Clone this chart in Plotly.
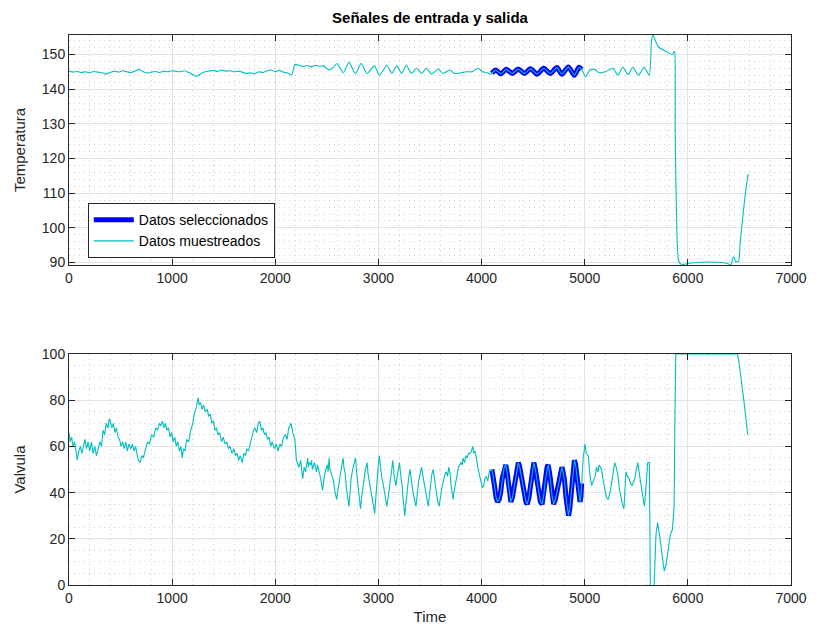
import plotly.graph_objects as go

# ---------------- data ----------------
temp_time = [0, 40, 80, 120, 160, 200, 240, 280, 320, 360, 400, 440, 480, 520, 560, 600, 640, 680, 720, 760,
             800, 840, 880, 920, 960, 1000, 1040, 1080, 1120, 1160, 1200, 1240, 1280, 1320, 1360, 1400, 1440, 1480,
             1520, 1560, 1600, 1640, 1680, 1720, 1760, 1800, 1840, 1880, 1920, 1960, 2000, 2040, 2080, 2120, 2160,
             2190, 2230, 2270, 2310, 2350, 2390, 2430, 2470, 2520, 2560, 2600, 2660, 2714, 2778, 2832, 2890, 2960,
             3010, 3082, 3130, 3178, 3225, 3270, 3320, 3370, 3418, 3466, 3514, 3578, 3626, 3690, 3738, 3800, 3850,
             3910, 3962, 4010, 4058, 4090,
             4100, 4138, 4186, 4240, 4298, 4356, 4416, 4474, 4538, 4602, 4666, 4730, 4778, 4842, 4900, 4944, 4970,
             5008, 5050, 5098, 5140, 5200, 5274, 5320, 5370, 5420, 5466, 5520, 5578, 5626, 5648, 5661, 5690, 5722,
             5790, 5850, 5867, 5872, 5877, 5893, 5909, 5931, 5963, 6011, 6123, 6283, 6379, 6417, 6437, 6449, 6462,
             6491, 6507, 6533, 6558, 6584]
temp_vals = [145.2, 144.9, 145.1, 144.8, 145.0, 144.7, 145.1, 144.9, 144.7, 144.3, 144.8, 145.2, 144.9, 145.3,
             145.0, 144.8, 145.2, 145.7, 145.0, 144.6, 144.9, 145.1, 144.8, 145.2, 145.0, 145.3, 145.1, 145.0, 145.3,
             144.8, 144.2, 143.7, 144.5, 145.0, 145.2, 145.4, 145.1, 145.5, 145.2, 145.3, 145.0, 145.2, 144.9, 144.5,
             144.7, 144.4, 145.0, 144.8, 145.3, 145.5, 145.0, 145.4, 144.9, 144.6, 144.1,
             147.1, 146.9, 146.5, 146.8, 146.4, 146.9, 146.6, 146.7, 145.5, 146.2, 147.4, 144.7, 147.7, 144.5, 147.4,
             144.5, 146.7, 144.0, 146.9, 144.5, 146.7, 144.5, 146.9, 144.5, 146.0, 144.5, 146.0, 144.3, 145.8, 144.5,
             145.5, 144.5, 144.7, 145.0, 145.0, 146.0, 145.0, 144.7, 144.3,
             144.6, 145.5, 144.4, 145.7, 144.5, 145.8, 144.5, 145.9, 144.3, 146.0, 144.5, 146.2, 144.3, 146.4, 144.0,
             146.3, 145.7,
             143.6, 145.5, 145.7, 144.7, 145.0, 146.0, 144.0, 146.3, 144.2, 146.3, 144.0, 146.3, 144.0, 154.1, 155.7,
             153.6, 152.0, 150.8, 150.0, 150.8, 150.8, 128.2, 99.4, 90.8, 89.6, 89.5, 89.8, 90.1, 90.1, 89.8, 89.3,
             91.3, 91.6, 90.3, 90.3, 95.6, 103.3, 110.0, 115.5]

valve_time = [0, 10, 25, 40, 55, 70, 80, 95, 110, 125, 140, 154, 170, 185, 200, 218, 232, 250, 266, 280, 300, 315,
              330, 345, 360, 378, 390, 400, 415, 430, 445, 460, 475, 490, 505, 520, 535, 550, 565, 580, 600, 615,
              630, 645, 660, 672, 690, 705, 720, 740, 762, 780, 800, 820, 840, 858, 875, 890, 906, 920, 935, 950,
              965, 980, 995, 1010, 1025, 1040, 1055, 1070, 1085, 1098, 1110, 1125, 1140, 1160, 1180, 1200, 1215,
              1235, 1252, 1262, 1275, 1290, 1305, 1320, 1340, 1355, 1370, 1385, 1400, 1415, 1430, 1445, 1460, 1480,
              1495, 1514, 1530, 1545, 1560, 1580, 1600, 1615, 1630, 1645, 1660, 1680, 1695, 1710, 1725, 1740, 1760,
              1775, 1790, 1802, 1820, 1835, 1850, 1865, 1880, 1895, 1910, 1925, 1940, 1955, 1970, 1990, 2010, 2026,
              2045, 2060, 2080, 2100, 2115, 2130, 2154, 2170, 2190, 2205, 2215, 2230, 2245, 2266, 2280,
              2295, 2314, 2322, 2330, 2345, 2352, 2360, 2380, 2390, 2400, 2410, 2420, 2432, 2440, 2458, 2466, 2475,
              2490, 2505, 2512, 2522, 2530, 2540, 2550, 2560, 2580, 2596, 2603, 2610, 2625, 2640, 2650, 2657, 2665,
              2675, 2690, 2700, 2714, 2725, 2735, 2750, 2765, 2778, 2788, 2800, 2812, 2826, 2835, 2845, 2858, 2870,
              2880, 2890, 2900, 2910, 2922, 2935, 2950, 2964, 2975, 2985, 2995, 3009, 3018, 3030, 3045, 3060, 3070,
              3082, 3095, 3110, 3125, 3140, 3150, 3160, 3170, 3185, 3204, 3215, 3230, 3242, 3255, 3268, 3280, 3292,
              3306, 3320, 3335, 3350, 3364, 3378, 3390, 3405, 3418, 3432, 3450, 3465, 3483, 3495, 3505, 3518, 3531,
              3545, 3560, 3575, 3588, 3600, 3615, 3630, 3645, 3658, 3670, 3682, 3695, 3708, 3723, 3735, 3750, 3765,
              3775, 3787, 3800, 3812, 3820, 3835, 3848, 3860, 3875, 3890, 3902, 3915, 3925, 3935, 3950, 3962, 3975,
              3995, 4008, 4020, 4032, 4045, 4060, 4075,
              4100, 4110, 4125, 4140, 4155, 4170, 4185, 4200, 4219, 4235, 4250, 4265, 4284, 4300, 4320, 4340, 4356,
              4370, 4385, 4410, 4430, 4443, 4460, 4475, 4490, 4507, 4522, 4540, 4555, 4570, 4587, 4603, 4620, 4635,
              4645, 4658, 4670, 4685, 4699, 4715, 4740, 4760, 4779, 4790, 4805, 4818, 4830, 4843, 4855, 4870, 4885,
              4900, 4912, 4925, 4940, 4955, 4963, 4970,
              4985, 5003, 5015, 5035, 5050, 5067, 5080, 5100, 5115, 5128, 5140, 5163, 5180, 5195, 5210, 5227, 5245,
              5260, 5275, 5291, 5305, 5320, 5335, 5350, 5365, 5380, 5390, 5400, 5415, 5430, 5445, 5460, 5475, 5490,
              5500, 5515, 5530, 5547, 5562, 5579, 5590, 5600, 5611, 5620, 5627, 5637, 5655, 5669, 5691, 5707, 5730,
              5771, 5790, 5830, 5850, 5867, 5874, 5877, 5879, 5883, 6482, 6500, 6540, 6581]
valve_vals = [66, 62, 64, 60, 62, 57, 54, 58, 60, 57, 61, 63, 59, 62, 58, 62, 57, 60, 56, 59, 62, 60,
              67, 65, 70, 68, 72, 71, 68, 70, 66, 68, 64, 63, 60, 62, 59, 62, 58, 61, 59, 61,
              58, 60, 56, 54, 53, 56, 55, 59, 62, 61, 65, 64, 68, 67, 70, 69, 71, 68, 70, 67,
              68, 64, 66, 62, 64, 60, 62, 58, 60, 55, 59, 58, 63, 62, 67, 70, 74,
              77, 81, 78, 79, 76, 78, 75, 76, 73, 74, 70, 71, 67, 68, 65, 66, 62,
              64, 61, 62, 59, 60, 57, 59, 56, 57, 54, 56, 53, 57, 56, 59, 58, 62,
              64, 67, 68, 66, 70, 71, 67, 68, 65, 66, 63, 64, 60, 62, 59, 61, 58,
              61, 60, 64, 65, 63, 68, 70, 66, 63, 54, 53, 51, 54, 46, 51,
              49, 55, 51, 53, 52, 54, 50, 53, 50, 49, 52, 50, 48, 46, 41, 45, 47,
              50, 52, 49, 55, 50, 49, 47, 46, 40, 37, 40, 42, 47, 51, 53, 55, 51,
              49, 42, 38, 34, 40, 46, 50, 53, 55, 49, 44, 38, 33, 37, 41, 47, 49,
              51, 53, 48, 45, 42, 38, 35, 31, 38, 45, 50, 56, 51, 47, 44, 39, 36,
              34, 38, 43, 49, 54, 48, 45, 43, 48, 53, 48, 43, 36, 30, 36, 42, 46,
              50, 45, 40, 37, 34, 40, 45, 48, 51, 47, 42, 38, 34, 39, 44, 48, 50,
              45, 40, 36, 34, 38, 42, 45, 48, 49, 47, 51, 48, 42, 37, 41, 44, 48,
              51, 52, 53, 52, 55, 53, 56, 55, 57, 57, 58, 60, 57, 58, 55, 51, 48,
              44, 42, 43, 46, 47, 45, 49,
              50, 48, 43, 38, 36, 37, 40, 46, 51, 52, 48, 42, 36, 38, 44, 50, 53,
              51, 47, 40, 36, 35, 38, 43, 49, 53, 50, 45, 40, 36, 35, 39, 46, 51,
              52, 49, 44, 38, 35, 37, 42, 47, 51, 49, 45, 38, 33, 30, 33, 40, 48,
              54, 52, 47, 40, 36, 38, 44,
              55, 61, 57, 56, 48, 43, 45, 47, 51, 49, 52, 50, 45, 41, 38, 37, 40,
              44, 49, 53, 51, 48, 42, 38, 35, 33, 42, 49, 47, 46, 44, 43, 45, 47,
              50, 53, 48, 43, 38, 34, 40, 47, 53, 53, 53, -5, -5, -5, 22, 27, 20,
              6, 9, 22, 24, 34, 70, 77, 75, 100, 100, 95, 81, 65]

sel_start, sel_end = 4100, 4970

x_ticks = [0, 1000, 2000, 3000, 4000, 5000, 6000, 7000]
temp_ticks = [90, 100, 110, 120, 130, 140, 150]
valve_ticks = [0, 20, 40, 60, 80, 100]

CYAN = "#00BFBF"
BLUE = "#0000FF"
AX = "#262626"
MAJ = "#E3E3E3"
MIN = "#D2D2D2"

sel_t = [t for t in temp_time if sel_start <= t <= sel_end]
sel_T = [v for t, v in zip(temp_time, temp_vals) if sel_start <= t <= sel_end]
sel_vt = [t for t in valve_time if sel_start <= t <= sel_end]
sel_v = [v for t, v in zip(valve_time, valve_vals) if sel_start <= t <= sel_end]

fig = go.Figure()
fig.add_trace(go.Scatter(x=sel_t, y=sel_T, mode="lines",
                         line=dict(color=BLUE, width=5, shape="spline", smoothing=0.8),
                         name="Datos seleccionados", xaxis="x", yaxis="y"))
fig.add_trace(go.Scatter(x=temp_time, y=temp_vals, mode="lines",
                         line=dict(color=CYAN, width=1.1, shape="spline", smoothing=0.6),
                         name="Datos muestreados", xaxis="x", yaxis="y"))
fig.add_trace(go.Scatter(x=sel_vt, y=sel_v, mode="lines", line=dict(color=BLUE, width=5),
                         showlegend=False, xaxis="x2", yaxis="y2"))
fig.add_trace(go.Scatter(x=valve_time, y=valve_vals, mode="lines", line=dict(color=CYAN, width=1.1),
                         showlegend=False, xaxis="x2", yaxis="y2"))

font = dict(family="Liberation Sans, Arial, sans-serif", size=14, color=AX)
minor_grid = dict(showgrid=True, gridcolor=MIN, griddash="1px,4px", ticklen=0)
common_x = dict(range=[0, 7000], tickvals=x_ticks, ticks="inside", ticklen=6, tickcolor=AX,
                showline=True, linecolor=AX, linewidth=1, mirror="ticks",
                showgrid=True, gridcolor=MAJ, gridwidth=1, zeroline=False,
                minor=dict(dtick=200, **minor_grid), tickfont=font)
common_y = dict(ticks="inside", ticklen=6, tickcolor=AX, showline=True, linecolor=AX, linewidth=1,
                mirror="ticks", showgrid=True, gridcolor=MAJ, gridwidth=1, zeroline=False,
                tickfont=font)

fig.update_layout(
    width=819, height=634,
    margin=dict(l=69, r=21, t=35, b=49),
    paper_bgcolor="white", plot_bgcolor="white",
    font=font,
    title=dict(text="<b>Señales de entrada y salida</b>", x=0.5, xref="paper", xanchor="center",
               y=1 - 18 / 634, yref="container", yanchor="middle",
               font=dict(family="Liberation Sans, Arial, sans-serif", size=15, color="#000000")),
    xaxis=dict(domain=[0, 1], anchor="y", **common_x),
    yaxis=dict(domain=[0.5818, 1], anchor="x", range=[89.3, 155.6], tickvals=temp_ticks,
               minor=dict(dtick=2, **minor_grid),
               title=dict(text="Temperatura", font=dict(size=15, color=AX), standoff=12), **common_y),
    xaxis2=dict(domain=[0, 1], anchor="y2",
                title=dict(text="Time", font=dict(size=15, color=AX), standoff=6), **common_x),
    yaxis2=dict(domain=[0, 0.42], anchor="x2", range=[0, 100], tickvals=valve_ticks,
                minor=dict(dtick=5, **minor_grid),
                title=dict(text="Valvula", font=dict(size=15, color=AX), standoff=12), **common_y),
    legend=dict(x=0.026, y=0.6945, xanchor="left", yanchor="top", bgcolor="white",
                bordercolor=AX, borderwidth=1, font=dict(size=14, color="#000000"),
                tracegroupgap=0, itemwidth=40),
    showlegend=True,
)

fig.write_html("out.html")
